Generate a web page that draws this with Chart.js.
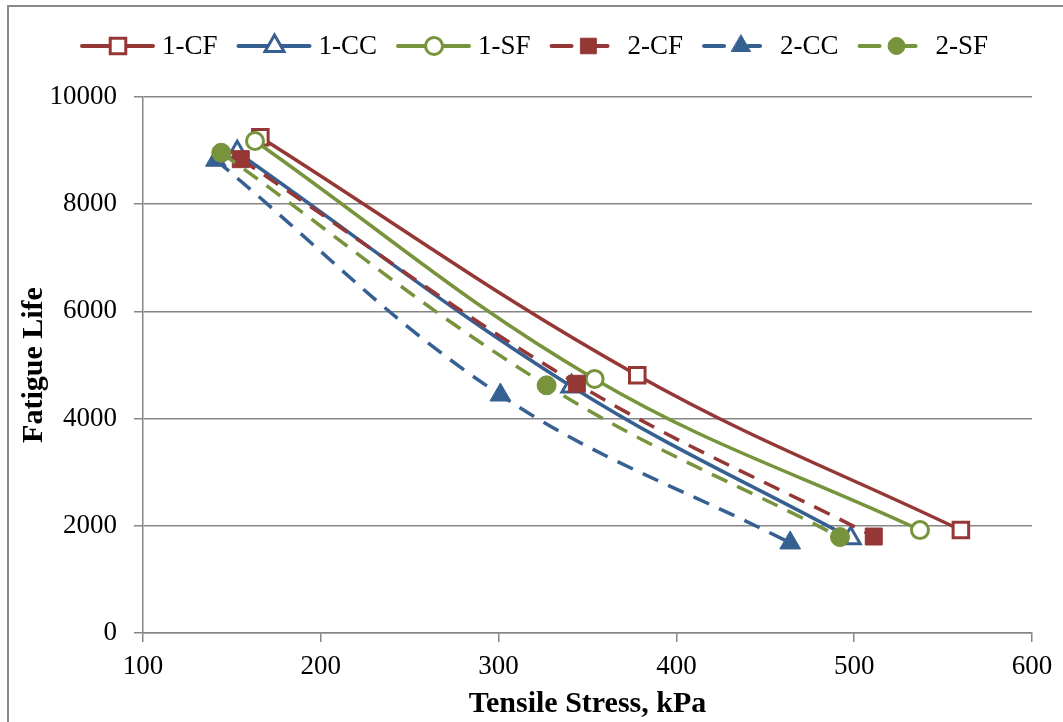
<!DOCTYPE html>
<html><head><meta charset="utf-8">
<script src="https://cdn.jsdelivr.net/npm/chart.js@4/dist/chart.umd.min.js"></script>
<style>html,body{margin:0;padding:0;background:#fff;} #wrap{width:1063px;height:722px;position:relative;}</style>
</head><body><div id="wrap"><canvas id="c" width="1063" height="722"></canvas></div>
<script>
const seriesNames = ['1-CF', '1-CC', '1-SF', '2-CF', '2-CC', '2-SF'];
const cf1Stress = [166, 378, 560];  const cf1Life = [9250, 4810, 1920];
const cc1Stress = [153, 341, 498];  const cc1Life = [8970, 4600, 1770];
const sf1Stress = [163, 354, 537];  const sf1Life = [9180, 4740, 1920];
const cf2Stress = [155, 344, 511];  const cf2Life = [8840, 4650, 1800];
const cc2Stress = [141, 301, 464];  const cc2Life = [8820, 4440, 1680];
const sf2Stress = [144, 327, 492];  const sf2Life = [8960, 4620, 1790];
const xTicks = [100, 200, 300, 400, 500, 600];
const yTicks = [0, 2000, 4000, 6000, 8000, 10000];

const RED = '#953735', BLUE = '#376092', GREEN = '#77933C';
const FONT = '"Liberation Serif", "Times New Roman", serif';

const styles = [
  {color: RED, shape: 'rect', open: true, dashed: false, r: 11},
  {color: BLUE, shape: 'triangle', open: true, dashed: false, r: 11},
  {color: GREEN, shape: 'circle', open: true, dashed: false, r: 8.5},
  {color: RED, shape: 'rect', open: false, dashed: true, r: 12},
  {color: BLUE, shape: 'triangle', open: false, dashed: true, r: 12},
  {color: GREEN, shape: 'circle', open: false, dashed: true, r: 9.5}
];
const xs = [cf1Stress, cc1Stress, sf1Stress, cf2Stress, cc2Stress, sf2Stress];
const ys = [cf1Life, cc1Life, sf1Life, cf2Life, cc2Life, sf2Life];

const datasets = seriesNames.map((name, i) => {
  const s = styles[i];
  return {
    label: name,
    data: xs[i].map((x, k) => ({x: x, y: ys[i][k]})),
    showLine: true,
    borderColor: s.color,
    borderWidth: 3.5,
    borderDash: s.dashed ? [17, 11] : [],
    tension: 0.38,
    pointStyle: s.shape,
    pointRadius: s.r,
    pointHoverRadius: s.r,
    pointBorderWidth: s.open ? 3 : 1,
    pointBorderColor: s.color,
    pointBackgroundColor: s.open ? '#ffffff' : s.color,
    order: 5 - i
  };
});

const frame = {
  id: 'frame',
  beforeDraw(chart) {
    const ctx = chart.ctx;
    ctx.save();
    ctx.fillStyle = '#fff';
    ctx.fillRect(0, 0, chart.width, chart.height);
    ctx.strokeStyle = '#8a8a8a';
    ctx.lineWidth = 2;
    ctx.strokeRect(8, 6, chart.width + 20, chart.height + 20);
    ctx.restore();
  },
  afterDraw(chart) {
    const ctx = chart.ctx;
    ctx.save();
    ctx.font = '27px ' + FONT;
    ctx.textBaseline = 'middle';
    ctx.fillStyle = '#000';
    const y = 46;
    let x = 82;
    seriesNames.forEach((name, i) => {
      const s = styles[i];
      ctx.strokeStyle = s.color;
      ctx.lineWidth = 4;
      ctx.setLineDash([]);
      ctx.lineCap = 'round';
      let textX;
      if (!s.dashed) {
        ctx.beginPath(); ctx.moveTo(x, y); ctx.lineTo(x + 71, y); ctx.stroke();
        ctx.fillStyle = '#fff';
        ctx.lineWidth = 3;
        Chart.helpers.drawPoint(ctx, {pointStyle: s.shape, radius: s.r, borderWidth: 3, rotation: 0}, x + 36, y);
        textX = x + 80;
      } else {
        ctx.beginPath(); ctx.moveTo(x, y); ctx.lineTo(x + 20, y); ctx.stroke();
        ctx.beginPath(); ctx.moveTo(x + 44, y); ctx.lineTo(x + 56, y); ctx.stroke();
        ctx.fillStyle = s.color;
        ctx.lineWidth = 1;
        Chart.helpers.drawPoint(ctx, {pointStyle: s.shape, radius: s.r - 1, borderWidth: 1, rotation: 0}, x + 37, y);
        textX = x + 76;
      }
      ctx.fillStyle = '#000';
      ctx.fillText(name, textX, y + 1);
      x = textX + ctx.measureText(name).width + 21;
    });
    ctx.restore();
  }
};

new Chart(document.getElementById('c'), {
  type: 'scatter',
  data: {datasets: datasets},
  plugins: [frame],
  options: {
    responsive: false,
    animation: false,
    devicePixelRatio: 1,
    layout: {padding: {top: 97, right: 31, left: 0, bottom: 0}},
    plugins: {legend: {display: false}, tooltip: {enabled: false}},
    scales: {
      x: {
        type: 'linear', min: 100, max: 600,
        afterBuildTicks: (s) => { s.ticks = xTicks.map(v => ({value: v})); },
        afterFit: (s) => { s.height = 89; },
        grid: {drawOnChartArea: false, drawTicks: true, tickLength: 9, color: '#868686', lineWidth: 1.5},
        border: {display: true, color: '#868686', width: 1.5},
        ticks: {color: '#000', font: {family: FONT, size: 27}, padding: 9, maxRotation: 0, callback: (v) => String(v)},
        title: {display: true, text: 'Tensile Stress, kPa', color: '#000', font: {family: FONT, size: 30, weight: 'bold'}, padding: {top: 0, bottom: 0}}
      },
      y: {
        type: 'linear', min: 0, max: 10000,
        afterBuildTicks: (s) => { s.ticks = yTicks.map(v => ({value: v})); },
        afterFit: (s) => { s.width = 143; },
        grid: {drawOnChartArea: true, drawTicks: true, tickLength: 9, color: '#868686', lineWidth: 1.5},
        border: {display: true, color: '#868686', width: 1.5},
        ticks: {color: '#000', font: {family: FONT, size: 27}, padding: 17, callback: (v) => String(v)},
        title: {display: true, text: 'Fatigue Life', color: '#000', font: {family: FONT, size: 30, weight: 'bold'}, padding: {top: 16, bottom: 0}}
      }
    }
  }
});
</script></body></html>
